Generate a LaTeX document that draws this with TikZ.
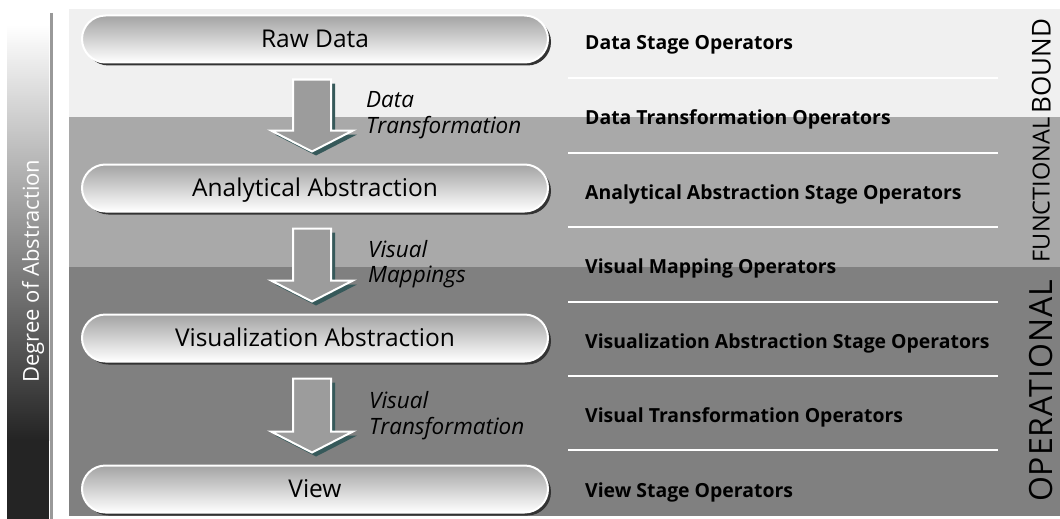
\documentclass[tikz,border=0pt]{standalone}
\usepackage{fontspec}
\setmainfont{Open Sans}
\usetikzlibrary{calc,shadows}
\definecolor{bandA}{HTML}{F0F0F0}
\definecolor{bandB}{HTML}{A9A9A9}
\definecolor{bandC}{HTML}{808080}
\definecolor{shadowteal}{HTML}{36595A}
\definecolor{arrowfill}{HTML}{9C9C9C}
\definecolor{barline}{HTML}{999999}
\newcommand{\blockarrow}[2]{%
  \path let \p1=($(#1.south)+(-3,16)$), \p2=($(#2.north)+(-3,-12)$) in
    [fill=shadowteal, xshift=4pt, yshift=-4pt]
    (\x1-19pt,\y1) -- (\x1+19pt,\y1) -- (\x1+19pt,\y2+21pt) -- (\x1+41pt,\y2+21pt)
    -- (\x1,\y2) -- (\x1-41pt,\y2+21pt) -- (\x1-19pt,\y2+21pt) -- cycle;
  \path let \p1=($(#1.south)+(-3,16)$), \p2=($(#2.north)+(-3,-12)$) in
    [fill=arrowfill, draw=white, line width=2pt, line join=miter]
    (\x1-19pt,\y1) -- (\x1+19pt,\y1) -- (\x1+19pt,\y2+21pt) -- (\x1+41pt,\y2+21pt)
    -- (\x1,\y2) -- (\x1-41pt,\y2+21pt) -- (\x1-19pt,\y2+21pt) -- cycle;
}
\begin{document}
\begin{tikzpicture}[x=1pt,y=-1pt,
  pill/.style={rounded corners=23.5pt, minimum width=466pt, minimum height=47pt,
    draw=white, line width=2pt, top color=black!36, bottom color=white,
    drop shadow={shadow xshift=3pt, shadow yshift=-3pt, fill=black!80, opacity=1},
    font=\fontsize{24.5}{24.5}\selectfont, text height=17.5pt, text depth=0pt, inner sep=0pt},
  oplbl/.style={anchor=base west, inner sep=0pt, font=\bfseries\fontsize{19.4}{19.4}\selectfont},
  tlbl/.style={anchor=base west, inner sep=0pt, font=\itshape\fontsize{22.5}{22.5}\selectfont},
  side/.style={rotate=90, inner sep=0pt, text depth=0pt}
]
\useasboundingbox (0,0) rectangle (1060,519);
\fill[white] (0,0) rectangle (1060,519);
% left gradient bar
\shade[top color=white, bottom color=black!86] (7,25) rectangle (49,440);
\fill[black!86] (7,440) rectangle (49,519);
\draw[barline, line width=3pt] (51,13) -- (51,519);
\node[side, white, font=\fontsize{22}{22}\selectfont, text height=15.5pt] (deg) at (31,271) {Degree of Abstraction};
% bands
\fill[bandA] (69,9) rectangle (1060,117);
\fill[bandB] (69,117) rectangle (1060,267);
\fill[bandC] (69,267) rectangle (1060,516);
% separators
\foreach \y in {78,153,227,302,376,450} \draw[white, line width=2pt] (568,\y) -- (998,\y);
% pills
\node[pill] (raw) at (315,39) {Raw Data};
\node[pill] (ana) at (315,188) {Analytical Abstraction};
\node[pill] (vis) at (315,338) {Visualization Abstraction};
\node[pill] (view) at (315,489) {View};
% arrows
\blockarrow{raw}{ana}
\blockarrow{ana}{vis}
\blockarrow{vis}{view}
% arrow labels
\node[tlbl] (t1a) at (366,107) {Data};
\node[tlbl] (t1b) at (366,133) {Transformation};
\node[tlbl] (t2a) at (368,257) {Visual};
\node[tlbl] (t2b) at (368,282) {Mappings};
\node[tlbl] (t3a) at (369,408) {Visual};
\node[tlbl] (t3b) at (369,434) {Transformation};
% operator column
\node[oplbl] (o1) at (585,50) {Data Stage Operators};
\node[oplbl] (o2) at (585,124.5) {Data Transformation Operators};
\node[oplbl] (o3) at (585,199) {Analytical Abstraction Stage Operators};
\node[oplbl] (o4) at (585,273.5) {Visual Mapping Operators};
\node[oplbl] (o5) at (585,348) {Visualization Abstraction Stage Operators};
\node[oplbl] (o6) at (585,422.5) {Visual Transformation Operators};
\node[oplbl] (o7) at (585,497) {View Stage Operators};
% side labels
\node[side, font=\fontsize{26}{26}\selectfont, text height=19pt] (bound) at (1041,66) {BOUND};
\node[side, font=\fontsize{23.5}{23.5}\selectfont, text height=17pt] (func) at (1041,190) {FUNCTIONAL};
\node[side, font=\fontsize{32}{32}\selectfont\addfontfeature{LetterSpace=3}, text height=23pt] (oper) at (1041,391) {OPERATIONAL};
\end{tikzpicture}
\end{document}
